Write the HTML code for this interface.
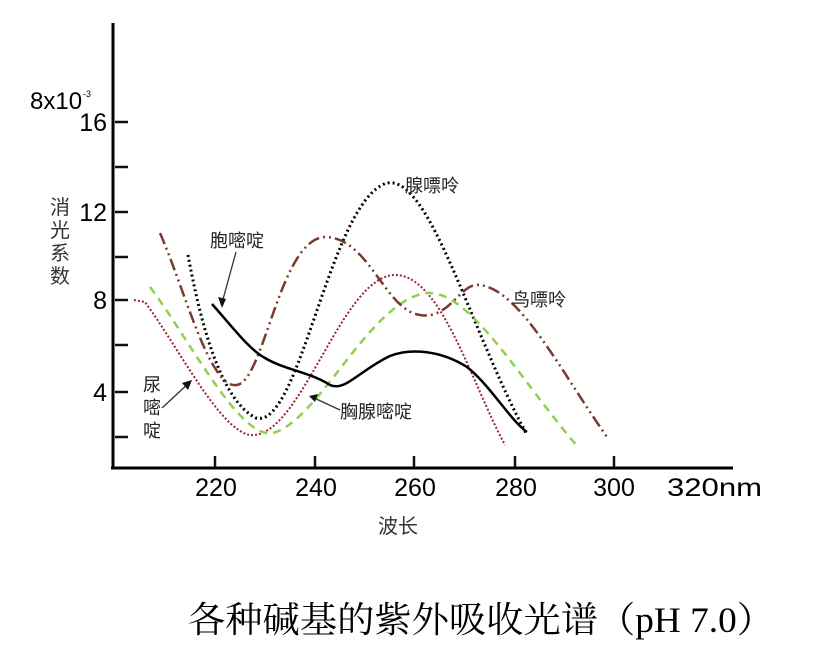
<!DOCTYPE html>
<html><head><meta charset="utf-8"><style>
body{margin:0;background:#fff;width:826px;height:646px;overflow:hidden}
svg text{font-family:"Liberation Sans","Noto Sans CJK SC",sans-serif}
</style></head><body>
<svg width="826" height="646" viewBox="0 0 826 646" xmlns="http://www.w3.org/2000/svg">
<g stroke="#000" stroke-width="3" fill="none">
<line x1="113" y1="23" x2="113" y2="469"/>
<line x1="111" y1="468" x2="733" y2="468"/>
</g>
<g stroke="#111" stroke-width="2.5">
<line x1="115" y1="122" x2="128" y2="122"/>
<line x1="115" y1="167" x2="128" y2="167"/>
<line x1="115" y1="212" x2="128" y2="212"/>
<line x1="115" y1="257" x2="128" y2="257"/>
<line x1="115" y1="300" x2="128" y2="300"/>
<line x1="115" y1="345" x2="128" y2="345"/>
<line x1="115" y1="392" x2="128" y2="392"/>
<line x1="115" y1="437" x2="128" y2="437"/>
<line x1="215" y1="456" x2="215" y2="467"/>
<line x1="315" y1="456" x2="315" y2="467"/>
<line x1="414" y1="456" x2="414" y2="467"/>
<line x1="515" y1="456" x2="515" y2="467"/>
<line x1="614" y1="456" x2="614" y2="467"/>
</g>
<g font-size="25" fill="#000" text-anchor="end">
<text x="107" y="131">16</text>
<text x="107" y="221">12</text>
<text x="107" y="309">8</text>
<text x="107" y="401">4</text>
</g>
<text x="30" y="109" font-size="24">8x10</text><text x="83" y="97" font-size="9">-3</text>
<g font-size="25" fill="#000" text-anchor="middle">
<text x="216" y="496">220</text><text x="316" y="496">240</text><text x="415" y="496">260</text>
<text x="516" y="496">280</text><text x="614" y="496">300</text>
</g>
<text x="667" y="496" font-size="25" textLength="95" lengthAdjust="spacingAndGlyphs">320nm</text>
<text x="378" y="533" font-size="20" fill="#333">波长</text>
<g font-size="20" fill="#333"><text x="50" y="214">消</text><text x="50" y="237">光</text><text x="50" y="260">系</text><text x="50" y="283">数</text></g>
<path d="M188,255 C200,320 220,400 256,418 C300,430 330,200 387,183 C430,175 470,330 527,435" stroke="#000" stroke-width="3" stroke-dasharray="2,3" fill="none"/>
<path d="M134,300 L145,302 C180,350 220,430 250,435 C300,440 340,280 393,275 C440,272 470,380 505,445" stroke="#a0203a" stroke-width="2" stroke-dasharray="2,2" fill="none"/>
<path d="M150,287 C190,340 240,440 273,433 C320,420 370,300 427,293 C470,290 520,380 578,447" stroke="#8fd14f" stroke-width="2.5" stroke-dasharray="8,6" fill="none"/>
<path d="M160,233 C185,290 210,390 237,385 C265,380 280,235 327,237 C370,240 385,310 420,315 C450,320 460,282 480,285 C520,290 560,370 607,437" stroke="#7a3a2e" stroke-width="2.5" stroke-dasharray="12,4,2,4,2,4" fill="none"/>
<path d="M212,304 C235,330 250,350 265,358 C285,370 310,372 330,385 C345,392 360,370 390,356 C410,348 440,350 467,367 C490,385 510,420 527,432" stroke="#000" stroke-width="2.5" fill="none"/>
<g font-size="18" fill="#222">
<text x="210" y="247">胞嘧啶</text>
<text x="405" y="192">腺嘌呤</text>
<text x="512" y="306">鸟嘌呤</text>
<text x="340" y="418">胸腺嘧啶</text>
<text x="143" y="391">尿</text><text x="143" y="414">嘧</text><text x="143" y="437">啶</text>
</g>
<g stroke="#333" stroke-width="1.3" fill="none">
<line x1="236" y1="252" x2="222" y2="303"/>
<line x1="162" y1="408" x2="190" y2="382"/>
<line x1="340" y1="410" x2="312" y2="397"/>
</g>
<g fill="#111">
<path d="M222,308 L218,297 L226,299Z"/>
<path d="M192,380 L182,383 L188,390Z"/>
<path d="M309,396 L318,394 L315,402Z"/>
</g>
<text x="188" y="632" font-size="36" textLength="586" lengthAdjust="spacingAndGlyphs" fill="#000" style="font-family:'Liberation Serif','Noto Serif CJK SC',serif">各种碱基的紫外吸收光谱（pH 7.0）</text>
</svg>
</body></html>
